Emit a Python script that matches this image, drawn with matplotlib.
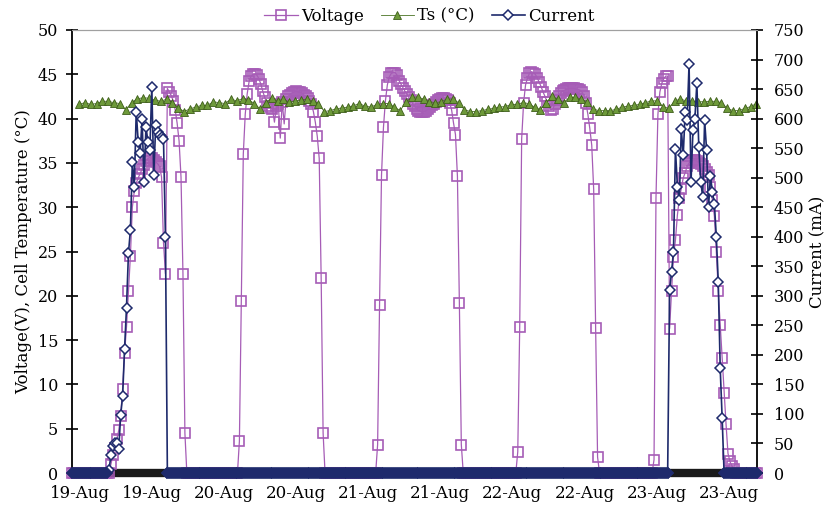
import numpy as np
import matplotlib
matplotlib.use('Agg')
import matplotlib.pyplot as plt

plt.rcParams['font.family'] = ['DejaVu Serif']

# ---------------- data ----------------
# time axis in hours from the left edge; logger samples every 20 minutes
n_samples = 353
sample_step_h = 1.0 / 3.0

# cell temperature, hourly
ts_start_h = 1.2
ts_values = [41.6, 41.8, 41.6, 41.7, 41.95, 41.95, 41.8, 41.7, 41.0, 41.8,
             42.25, 42.35, 42.3, 42.1, 41.95, 42.2, 41.8, 41.2, 40.8, 41.1,
             41.3, 41.5, 41.5, 41.9, 41.8, 41.7, 42.2, 42.0, 42.25, 42.15,
             41.7, 41.1, 41.8, 42.35, 42.0, 42.2, 41.85, 42.0, 42.1, 42.2,
             42.0, 41.7, 40.8, 40.9, 41.1, 41.2, 41.3, 41.45, 41.7, 41.4,
             41.3, 41.6, 41.7, 41.7, 41.3, 40.9, 41.9, 42.4, 42.45, 42.2,
             41.9, 41.8, 41.9, 42.2, 42.2, 41.8, 41.0, 40.8, 40.8, 40.9,
             41.05, 41.15, 41.3, 41.35, 41.6, 41.6, 41.8, 41.7, 41.3, 41.0,
             41.8, 42.5, 42.2, 41.8, 42.4, 42.4, 42.2, 41.9, 41.1, 40.9,
             40.9, 40.9, 41.05, 41.3, 41.4, 41.5, 41.6, 41.8, 42.0, 42.0,
             41.35, 41.15, 42.0, 42.2, 42.0, 42.0, 41.9, 41.9, 41.95, 41.95,
             41.8, 41.15, 40.9, 40.9, 41.15, 41.35, 41.7]

# voltage during the daylight windows (zero outside them)
volt_day1_start_h = 6.333
volt_day1 = [0, 1.0, 2.0, 2.8, 3.8, 4.8, 6.4, 9.5, 13.5, 16.5, 20.5, 24.5, 30.0,
             31.8, 32.7, 33.3, 33.8, 34.3, 34.8, 35.2, 35.5, 35.6, 35.5, 35.3,
             35.1, 34.9, 34.6, 33.4, 26.0, 22.5, 43.4, 43.0, 42.6, 42.0, 41.0,
             39.5, 37.5, 33.4, 22.5, 4.5, 0]
volt_day2_start_h = 28.333
volt_day2 = [0, 3.6, 19.4, 36.0, 40.5, 42.8, 44.2, 44.8, 45.0, 45.0, 44.9, 44.5,
             43.9, 43.1, 42.4, 41.8, 41.4, 41.2, 41.1, 39.6, 41.4, 41.6, 37.8,
             41.9, 39.4, 42.2, 42.5, 42.7, 42.9, 43.0, 43.1, 43.0, 43.0, 42.9,
             42.7, 42.5, 42.3, 42.0, 41.6, 40.8, 39.6, 38.0, 35.5, 22.0, 4.5, 0]
volt_day3_start_h = 52.0
volt_day3 = [0, 3.2, 19.0, 33.6, 39.0, 42.0, 43.8, 44.7, 45.1, 45.2, 45.2, 44.9,
             44.3, 43.9, 43.5, 43.1, 42.8, 42.4, 42.1, 41.7, 41.4, 41.1, 40.9,
             40.8, 40.8, 40.8, 40.9, 41.1, 41.3, 41.5, 41.7, 41.9, 42.1, 42.2,
             42.3, 42.3, 42.2, 42.1, 41.8, 41.0, 39.5, 38.2, 33.5, 19.2, 3.2, 0]
volt_day4_start_h = 76.0
volt_day4 = [0, 2.4, 16.5, 37.7, 41.8, 43.8, 44.6, 45.1, 45.3, 45.2, 45.0, 44.6,
             44.1, 43.6, 43.0, 42.5, 41.9, 41.4, 41.0, 41.1, 41.6, 42.1, 42.6,
             42.9, 43.1, 43.2, 43.3, 43.4, 43.4, 43.4, 43.4, 43.3, 43.3, 43.2,
             43.0, 42.6, 41.8, 40.5, 38.9, 37.0, 32.0, 16.4, 1.8, 0]
volt_day5_start_h = 99.0
volt_day5 = [0, 0, 1.5, 31.0, 40.5, 43.0, 44.0, 44.5, 44.8, 44.8, 16.3, 20.5,
             24.4, 26.3, 29.1, 31.0, 32.1, 33.3, 33.9, 34.6, 35.0, 35.2, 35.3,
             35.3, 35.2, 35.0, 34.9, 34.6, 34.3, 34.0, 33.6, 32.3, 30.8, 29.0,
             25.0, 20.5, 16.7, 13.0, 9.0, 5.5, 2.2, 1.3, 0.8, 0.4, 0]

# load current (mA) while the load is on (zero outside)
cur_day1_start_h = 6.333
cur_day1 = [5, 30, 45, 50, 50, 40, 98, 130, 210, 280, 372, 411, 527, 485, 612,
            561, 541, 599, 493, 586, 561, 547, 654, 504, 589, 578, 572, 569,
            566, 400, 0]
cur_day5_start_h = 102.333
cur_day5 = [310, 340, 375, 549, 485, 462, 583, 538, 612, 597, 692, 493, 580,
            600, 660, 552, 493, 468, 597, 547, 451, 502, 476, 456, 400, 324,
            177, 93, 0]

xtick_pos_h = [1.37, 13.7, 26.0, 38.4, 50.7, 63.0, 75.3, 87.8, 100.2, 112.5]
xtick_labels = ['19-Aug', '19-Aug', '20-Aug', '20-Aug', '21-Aug', '21-Aug',
                '22-Aug', '22-Aug', '23-Aug', '23-Aug']

# ---------------- build series ----------------
t = np.arange(n_samples) * sample_step_h
voltage = np.zeros(n_samples)
for start, vals in [(volt_day1_start_h, volt_day1), (volt_day2_start_h, volt_day2),
                    (volt_day3_start_h, volt_day3), (volt_day4_start_h, volt_day4),
                    (volt_day5_start_h, volt_day5)]:
    i0 = int(round(start / sample_step_h))
    voltage[i0:i0 + len(vals)] = vals
current = np.zeros(n_samples)
for start, vals in [(cur_day1_start_h, cur_day1), (cur_day5_start_h, cur_day5)]:
    i0 = int(round(start / sample_step_h))
    current[i0:i0 + len(vals)] = vals
ts_t = ts_start_h + np.arange(len(ts_values))
zero_cur = current == 0

# ---------------- plot ----------------
PURPLE = '#A65CB6'
GREEN_F = '#6E9A3A'
GREEN_E = '#3E5E1A'
NAVY = '#1E2A6C'

fig = plt.figure(figsize=(8.26, 5.08), dpi=100)
ax = fig.add_axes([72 / 826, 35 / 508, (757 - 72) / 826, (473 - 30) / 508])
ax2 = ax.twinx()

ax.axhline(0, color='#1a1a1a', lw=6, solid_capstyle='butt', clip_on=False, zorder=1)
lv, = ax.plot(t, voltage, color=PURPLE, lw=0.9, marker='s', ms=7.5, mfc='none',
              mec=PURPLE, mew=1.2, clip_on=False, zorder=2, label='Voltage')
lt, = ax.plot(ts_t, ts_values, color='#4A7424', lw=0.6, marker='^', ms=5.5,
              mfc=GREEN_F, mec=GREEN_E, mew=0.6, clip_on=False, zorder=3, label='Ts (°C)')
lc, = ax2.plot(t, current, color=NAVY, lw=1.2, marker='D', ms=4.8, mfc='white',
               mec=NAVY, mew=1.1, clip_on=False, zorder=4, label='Current')
# densely overlapping zero-current markers merge into a solid band
ax2.plot(t[zero_cur], current[zero_cur], ls='none', marker='D', ms=5.6, mfc=NAVY,
         mec=NAVY, mew=1.1, clip_on=False, zorder=5)

ax.set_xlim(0, 117.3)
ax.set_ylim(0, 50)
ax2.set_ylim(0, 750)
ax.set_yticks(np.arange(0, 51, 5))
ax2.set_yticks(np.arange(0, 751, 50))
ax.set_xticks(xtick_pos_h)
ax.set_xticklabels(xtick_labels, fontsize=12)
ax.tick_params(axis='x', length=0, pad=9)
ax.tick_params(axis='y', direction='inout', length=8, width=1.2, labelsize=11.5, pad=6)
ax2.tick_params(axis='y', direction='inout', length=8, width=1.2, labelsize=11.5, pad=8)

for a in (ax, ax2):
    a.spines['bottom'].set_visible(False)
    a.spines['top'].set_color('#A0A0A0')
    a.spines['top'].set_linewidth(0.8)
ax.spines['right'].set_visible(False)
ax2.spines['left'].set_visible(False)
ax.spines['left'].set_linewidth(1.3)
ax2.spines['right'].set_linewidth(1.3)

ax.set_ylabel('Voltage(V), Cell Temperature (°C)', fontsize=12, labelpad=4)
ax2.set_ylabel('Current (mA)', fontsize=12, labelpad=4)

fig.legend(handles=[lv, lt, lc], loc='center', bbox_to_anchor=(0.52, 0.968),
           ncol=3, frameon=False, fontsize=12, handlelength=2.0,
           handletextpad=0.2, columnspacing=1.0, borderaxespad=0)

fig.savefig('out.png', dpi=100)
